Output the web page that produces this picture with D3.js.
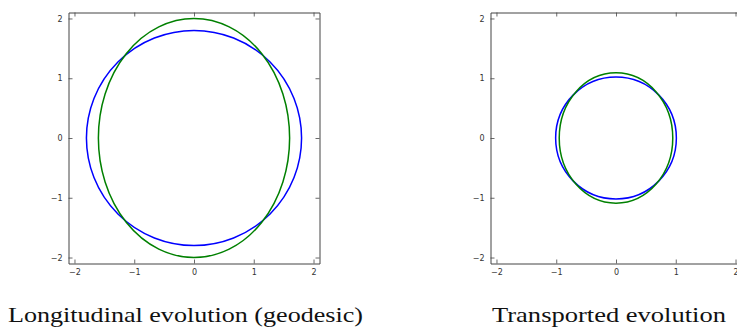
<!DOCTYPE html>
<html>
<head>
<meta charset="utf-8">
<script src="https://cdn.jsdelivr.net/npm/d3@7"></script>
<style>
  body { margin: 0; background: #fff; overflow: hidden; }
  .tick text { font-family: "DejaVu Sans", sans-serif; font-size: 8px; fill: #333; }
  .caption { font-family: "Liberation Serif", "Times New Roman", Times, serif; font-size: 22px; fill: #111; }
</style>
</head>
<body>
<script>
// panel titles
const titles = ["Longitudinal evolution (geodesic)", "Transported evolution"];

// tick values (same on both axes)
const tickValues = [-2, -1, 0, 1, 2];
const domain = [-2.1, 2.1];

// curves per panel: semi-axes of each closed curve [rx, ry]
const blueCurves = [[1.8, 1.8], [1.01, 1.02]];
const greenCurves = [[1.6, 2.0], [0.95, 1.09]];
const colors = ["#0000ff", "#008000"];

var width = 737, height = 329;

var svg = d3.select("body").append("svg")
    .attr("width", width)
    .attr("height", height);

// layout of the two panels
var panels = [
  {left: 68.5, top: 12.5, size: 251, caption: {x: 8, w: 355}},
  {left: 490.5, top: 12.5, size: 251, caption: {x: 492, w: 234}}
];

panels.forEach(function(p, i) {
  var x = d3.scaleLinear().domain(domain).range([p.left, p.left + p.size]);
  var y = d3.scaleLinear().domain(domain).range([p.top + p.size, p.top]);

  var g = svg.append("g");

  // curves
  var curves = [blueCurves[i], greenCurves[i]];
  curves.forEach(function(c, k) {
    g.append("ellipse")
      .attr("cx", x(0))
      .attr("cy", y(0))
      .attr("rx", x(c[0]) - x(0))
      .attr("ry", y(0) - y(c[1]))
      .attr("fill", "none")
      .attr("stroke", colors[k])
      .attr("stroke-width", 1.5);
  });

  // axes with inward ticks, labels on bottom / left
  var fmt = function(d) { return d < 0 ? "\u2212" + Math.abs(d) : d; };
  var ax = [
    {a: d3.axisBottom(x).tickSizeInner(-4).tickPadding(6).tickFormat(fmt), t: "translate(0," + (p.top + p.size) + ")"},
    {a: d3.axisTop(x).tickSizeInner(-4).tickFormat(""), t: "translate(0," + p.top + ")"},
    {a: d3.axisLeft(y).tickSizeInner(-4).tickPadding(6).tickFormat(fmt), t: "translate(" + p.left + ",0)"},
    {a: d3.axisRight(y).tickSizeInner(-4).tickFormat(""), t: "translate(" + (p.left + p.size) + ",0)"}
  ];
  ax.forEach(function(o) {
    var s = g.append("g")
      .attr("transform", o.t)
      .call(o.a.tickValues(tickValues).tickSizeOuter(0));
    s.select(".domain").attr("stroke", "#444").attr("stroke-width", 1);
    s.selectAll(".tick line").attr("stroke", "#444").attr("stroke-width", 0.8);
  });

  // caption
  svg.append("text")
    .attr("class", "caption")
    .attr("x", p.caption.x)
    .attr("y", 322)
    .attr("textLength", p.caption.w)
    .attr("lengthAdjust", "spacingAndGlyphs")
    .text(titles[i]);
});
</script>
</body>
</html>
